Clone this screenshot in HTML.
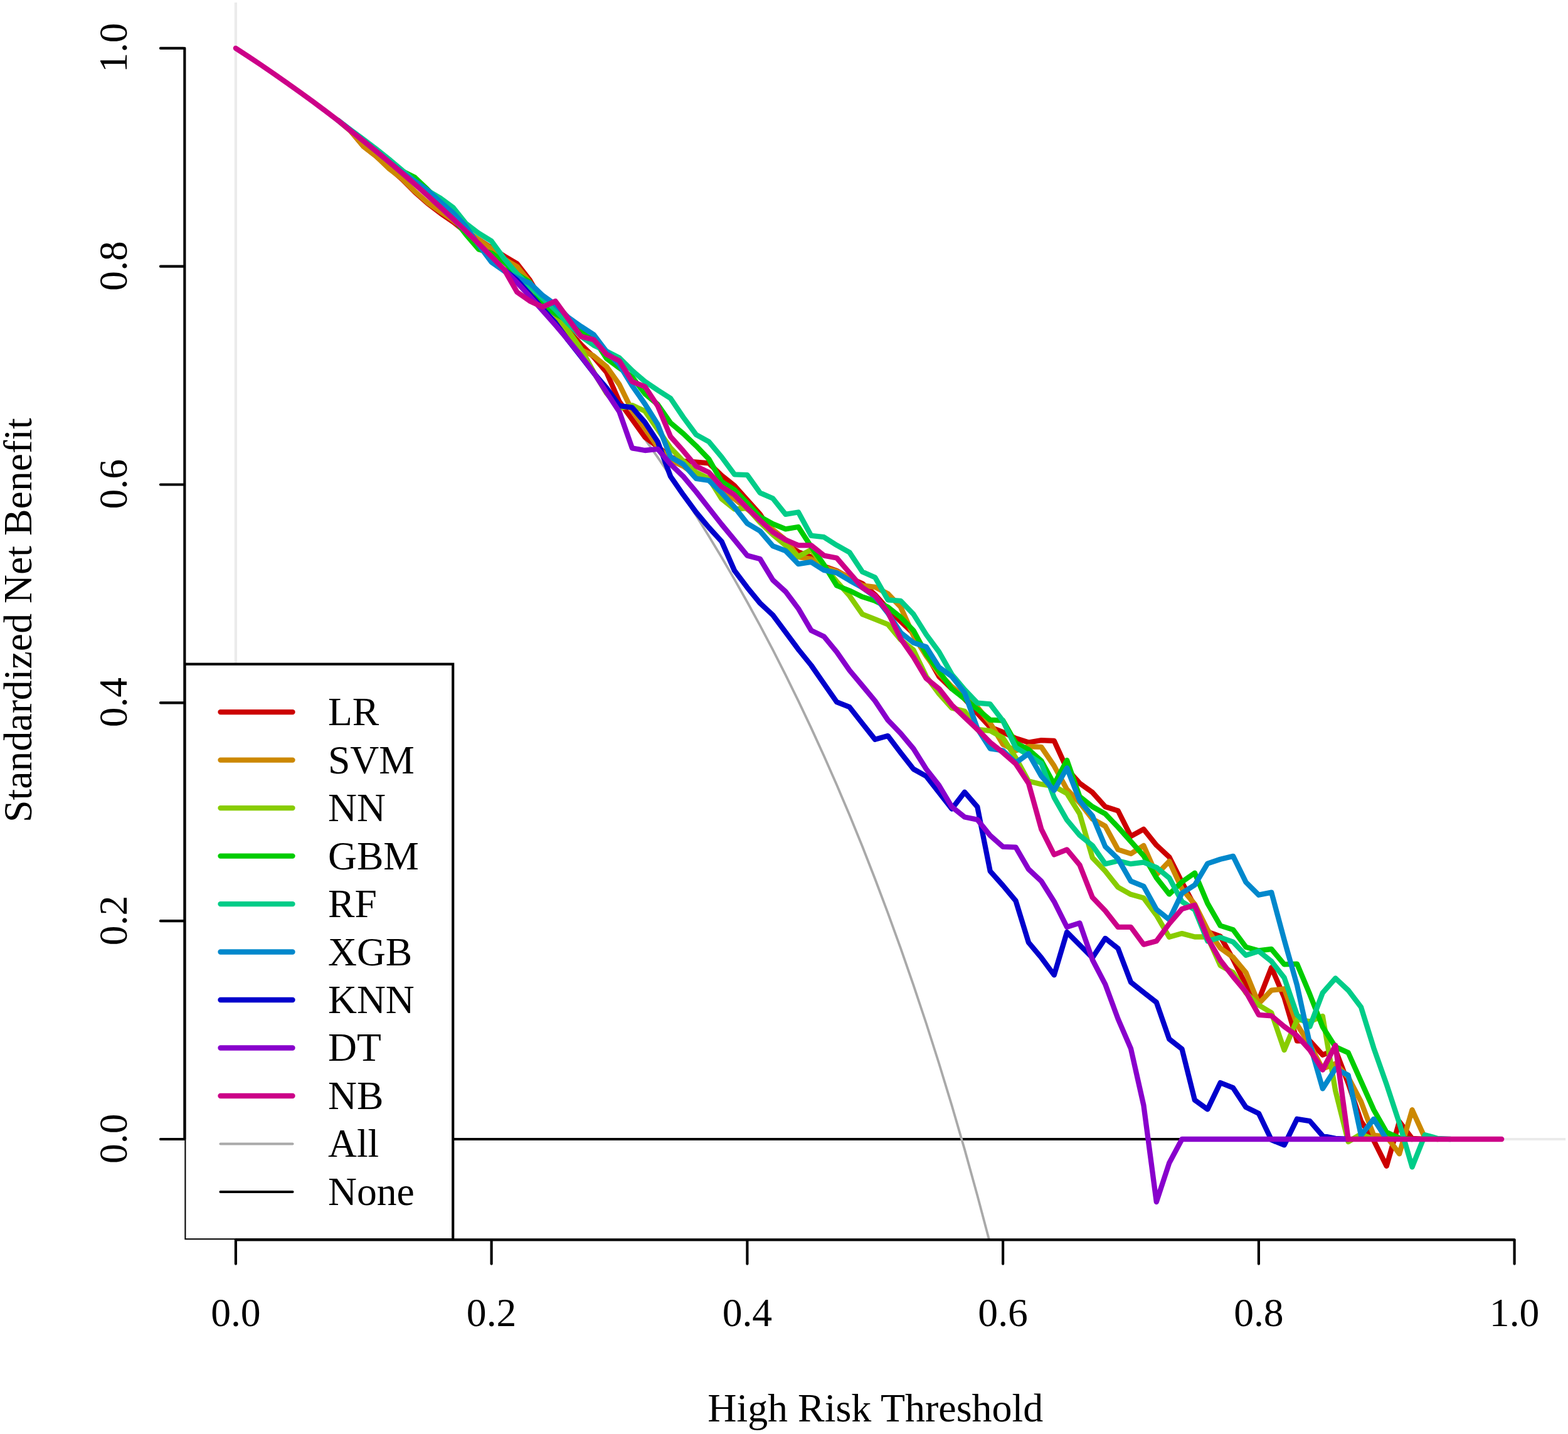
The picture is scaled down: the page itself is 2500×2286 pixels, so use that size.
<!DOCTYPE html>
<html lang="en">
<head>
<meta charset="utf-8">
<title>Decision curve analysis</title>
<style>
html,body{margin:0;padding:0;background:#fff;}
body{width:2500px;height:2286px;overflow:hidden;}
svg{display:block;}
text{font-family:"Liberation Serif","DejaVu Serif",serif;font-size:63.6px;fill:#000;}
.c{fill:none;stroke-width:8.33;stroke-linecap:round;stroke-linejoin:round;}
.t{fill:none;stroke-width:4.17;stroke-linecap:round;stroke-linejoin:round;}
</style>
</head>
<body>
<svg width="2500" height="2286" viewBox="0 0 2500 2286" role="img" aria-label="Decision curve analysis">
<rect x="0" y="0" width="2500" height="2286" fill="#fff"/>
<defs><clipPath id="plot"><rect x="294.35" y="3.9" width="2201.75" height="1972.3999999999999"/></clipPath></defs>
<g clip-path="url(#plot)">
<line class="t" stroke="#EBEBEB" x1="375.9" y1="-6.1" x2="375.9" y2="1986.3"/>
<line class="t" stroke="#EBEBEB" x1="284.35" y1="1816.0" x2="2506.1" y2="1816.0"/>
<line class="t" stroke="#000" x1="375.9" y1="1816.0" x2="2394.213" y2="1816.0"/>
<polyline class="t" style="stroke-width:3.8" stroke="#A9A9A9" points="375.9,76.9 396.3,90.3 416.7,103.9 437.1,117.9 457.4,132.1 477.8,146.6 498.2,161.4 518.6,176.6 539.0,192.1 559.4,207.9 579.8,224.0 600.2,240.6 620.5,257.5 640.9,274.8 661.3,292.5 681.7,310.6 702.1,329.2 722.5,348.1 742.9,367.6 763.3,387.5 783.6,408.0 804.0,428.9 824.4,450.4 844.8,472.5 865.2,495.1 885.6,518.3 906.0,542.2 926.3,566.7 946.7,591.9 967.1,617.8 987.5,644.5 1007.9,671.9 1028.3,700.1 1048.7,729.2 1069.1,759.1 1089.4,790.0 1109.8,821.8 1130.2,854.7 1150.6,888.6 1171.0,923.6 1191.4,959.8 1211.8,997.2 1232.2,1035.9 1252.5,1075.9 1272.9,1117.4 1293.3,1160.4 1313.7,1205.0 1334.1,1251.3 1354.5,1299.3 1374.9,1349.3 1395.2,1401.2 1415.6,1455.3 1436.0,1511.6 1456.4,1570.3 1476.8,1631.5 1497.2,1695.5 1517.6,1762.4 1538.0,1832.4 1558.3,1905.7 1578.7,1982.6 1599.1,2063.4 1619.5,2148.3 1639.9,2237.6 1660.3,2331.8 1680.7,2431.2 1701.1,2536.3 1721.4,2647.6 1741.8,2765.7 1762.2,2891.1 1782.6,3024.6 1803.0,3167.0 1823.4,3319.2 1843.8,3482.3 1864.2,3657.5 1884.5,3846.1"/>
<path class="c" stroke="#CC0000" d="M559.4 209.2L579.8 233.3L600.2 249.3L620.5 267.3L640.9 285.6L661.3 306.1L681.7 324.2L702.1 339.7L722.5 353.8L742.9 370.1L763.3 382.1L783.6 395.2L804.0 408.3L824.4 420.3L844.8 446.5L865.2 482.0L885.6 501.4L906.0 527.2L926.3 549.1L946.7 569.3L967.1 593.6L987.5 640.3L1007.9 668.6L1028.3 696.9L1048.7 712.3L1069.1 728.6L1089.4 735.1L1109.8 736.7L1130.2 738.4L1150.6 757.9L1171.0 774.2L1191.4 797.0L1211.8 819.8L1232.2 850.7L1252.5 867.0L1272.9 879.8L1293.3 887.9L1313.7 902.6L1334.1 909.9L1354.5 921.3L1374.9 930.2L1395.2 948.1L1415.6 970.9L1436.0 990.5L1456.4 1010.0L1476.8 1042.5L1497.2 1078.4L1517.6 1097.9M1538.0 1114.2L1558.3 1137.0L1578.7 1159.1L1599.1 1167.2L1619.5 1177.0L1639.9 1183.5L1660.3 1180.2L1680.7 1181.0L1701.1 1225.8L1721.4 1248.6L1741.8 1263.2L1762.2 1286.0L1782.6 1292.5L1803.0 1333.2L1823.4 1321.8L1843.8 1347.3L1864.2 1366.2L1884.5 1406.4L1904.9 1444.6L1925.3 1485.3L1945.7 1492.7L1966.1 1529.3L1986.5 1570.0L2006.9 1594.2L2027.2 1542.3L2047.6 1590.1L2068.0 1659.3L2088.4 1659.3L2108.8 1681.7L2129.2 1673.6L2149.6 1727.0L2170.0 1787.2L2190.3 1818.1L2210.7 1858.8L2231.1 1788.0L2251.5 1814.9L2271.9 1816.0"/>
<path class="c" stroke="#CC8800" d="M539.0 192.1L559.4 209.2L579.8 233.8L600.2 249.5L620.5 268.9L640.9 284.7L661.3 305.0L681.7 323.0L702.1 337.3L722.5 351.4L742.9 367.7L763.3 382.1L783.6 396.4L804.0 413.1L824.4 425.0L844.8 450.1L865.2 480.1L885.6 501.4L906.0 530.0L926.3 557.4L946.7 567.6L967.1 584.4L987.5 613.0L1007.9 654.5L1028.3 683.0L1048.7 712.3L1069.1 733.5L1089.4 743.2L1109.8 757.9L1130.2 764.4L1150.6 783.9L1171.0 795.3L1191.4 811.6L1211.8 826.3L1232.2 844.2L1252.5 860.4L1272.9 887.9L1293.3 891.2L1313.7 904.2L1334.1 910.7L1354.5 920.5L1374.9 933.5L1395.2 935.9L1415.6 946.5L1436.0 967.7L1456.4 1013.2L1476.8 1045.8L1497.2 1073.5L1517.6 1094.6L1538.0 1110.9L1558.3 1127.2L1578.7 1152.6L1599.1 1186.7L1619.5 1196.5L1639.9 1190.0L1660.3 1190.8L1680.7 1220.9L1701.1 1258.4L1721.4 1279.5L1741.8 1305.6L1762.2 1317.0L1782.6 1354.4L1803.0 1360.9L1823.4 1347.9L1843.8 1394.5L1864.2 1373.0L1884.5 1417.0L1904.9 1441.4L1925.3 1482.1L1945.7 1511.4L1966.1 1526.0L1986.5 1550.4L2006.9 1599.9L2027.2 1578.7L2047.6 1576.3L2068.0 1633.3L2088.4 1665.8L2108.8 1703.7L2129.2 1695.6L2149.6 1717.2L2170.0 1756.3L2190.3 1810.0L2210.7 1811.6L2231.1 1839.3L2251.5 1769.3L2271.9 1814.1L2292.3 1816.0"/>
<path class="c" stroke="#88CC00" d="M804.0 429.9L824.4 438.2L844.8 456.1L865.2 483.8M885.6 500.4L906.0 527.2L926.3 555.8L946.7 593.3L967.1 626.9L987.5 650.9L1007.9 646.1L1028.3 655.3L1048.7 684.6L1069.1 713.9L1089.4 735.1L1109.8 753.0L1130.2 762.8L1150.6 795.3L1171.0 811.6L1191.4 810.0L1211.8 832.8L1232.2 852.3L1252.5 869.3L1272.9 887.2L1293.3 876.4L1313.7 902.6L1334.1 927.0L1354.5 949.8L1374.9 979.1L1395.2 987.2L1415.6 995.3L1436.0 1019.8L1456.4 1036.0L1476.8 1078.4L1497.2 1106.0L1517.6 1128.8L1538.0 1133.7L1558.3 1163.0L1578.7 1164.8L1599.1 1176.2L1619.5 1207.9L1639.9 1245.3L1660.3 1250.2L1680.7 1253.5L1701.1 1264.9L1721.4 1297.4L1741.8 1367.4L1762.2 1388.6L1782.6 1414.4L1803.0 1425.8L1823.4 1431.5L1843.8 1459.0L1864.2 1493.8L1884.5 1488.1L1904.9 1493.5L1925.3 1493.5L1945.7 1539.1L1966.1 1550.4L1986.5 1582.8L2006.9 1602.3L2027.2 1614.5L2047.6 1673.9L2068.0 1625.1L2088.4 1628.4L2108.8 1619.9L2129.2 1738.7L2149.6 1820.1L2170.0 1807.9L2190.3 1816.0"/>
<path class="c" stroke="#00CC00" d="M620.5 257.9L640.9 272.6L661.3 282.7L681.7 302.1L702.1 322.4L722.5 347.4L742.9 373.7L763.3 397.6L783.6 403.5L804.0 417.9L824.4 437.0L844.8 450.1L865.2 483.8L885.6 500.4L906.0 511.5L926.3 526.3L946.7 540.1L967.1 571.5L987.5 586.7L1007.9 601.0L1028.3 627.7L1048.7 644.8L1069.1 674.1L1089.4 691.2L1109.8 710.7L1130.2 731.9L1150.6 767.7L1171.0 780.7L1191.4 801.8L1211.8 823.8L1232.2 835.2L1252.5 843.3L1272.9 840.0L1293.3 871.5L1313.7 900.2L1334.1 933.5L1354.5 941.6L1374.9 951.4L1395.2 957.9L1415.6 967.7L1436.0 983.9L1456.4 1005.1L1476.8 1042.5L1497.2 1070.2L1517.6 1097.9L1538.0 1114.2L1558.3 1130.4L1578.7 1147.7L1599.1 1148.5L1619.5 1184.3L1639.9 1194.9L1660.3 1212.8L1680.7 1250.2L1701.1 1212.0L1721.4 1269.8L1741.8 1286.0L1762.2 1297.4L1782.6 1318.6L1803.0 1341.4L1823.4 1364.2L1843.8 1399.4L1864.2 1425.4L1884.5 1405.9L1904.9 1391.7L1925.3 1440.1L1945.7 1475.6L1966.1 1482.1L1986.5 1509.8L2006.9 1515.4L2027.2 1513.0L2047.6 1537.4L2068.0 1536.6L2088.4 1585.2L2108.8 1637.0L2129.2 1668.9L2149.6 1678.1L2170.0 1723.7L2190.3 1769.3L2210.7 1805.1L2231.1 1814.1L2251.5 1816.0"/>
<path class="c" stroke="#00CC88" d="M539.0 191.7L559.4 207.2L579.8 222.3L600.2 237.8L620.5 254.0L640.9 271.3L661.3 289.0L681.7 303.9L702.1 315.8L722.5 330.9L742.9 356.4L763.3 371.9L783.6 384.4L804.0 412.5L824.4 436.4L844.8 456.7L865.2 475.5L885.6 494.0L906.0 516.1L926.3 536.0L946.7 550.4L967.1 559.9L987.5 570.5L1007.9 590.8L1028.3 608.1L1048.7 622.0L1069.1 635.0L1089.4 665.1L1109.8 692.8L1130.2 704.2L1150.6 728.6L1171.0 756.3L1191.4 757.1L1211.8 785.6L1232.2 794.5L1252.5 819.8L1272.9 816.5L1293.3 853.9L1313.7 856.2L1334.1 869.2L1354.5 880.6L1374.9 911.5L1395.2 920.5L1415.6 956.3L1436.0 957.9L1456.4 979.1L1476.8 1011.6L1497.2 1039.3L1517.6 1075.1L1538.0 1099.5L1558.3 1120.7L1578.7 1122.4L1599.1 1149.3L1619.5 1191.6L1639.9 1203.8L1660.3 1216.9L1680.7 1271.4L1701.1 1307.2L1721.4 1331.6L1741.8 1347.9L1762.2 1377.2L1782.6 1372.3L1803.0 1377.2L1823.4 1374.7L1843.8 1382.8L1864.2 1399.4L1884.5 1437.3L1904.9 1450.3L1925.3 1500.3L1945.7 1494.3L1966.1 1501.6L1986.5 1522.8L2006.9 1516.3L2027.2 1532.5L2047.6 1558.6L2068.0 1617.8L2088.4 1636.5L2108.8 1582.8L2129.2 1559.5L2149.6 1578.6L2170.0 1605.5L2190.3 1670.8L2210.7 1728.6L2231.1 1790.5L2251.5 1860.4L2271.9 1809.2L2292.3 1814.9L2312.7 1816.0"/>
<path class="c" stroke="#0088CC" d="M539.0 192.1L559.4 208.3L579.8 224.5L600.2 241.0L620.5 257.9L640.9 274.8L661.3 288.7L681.7 303.3L702.1 321.8L722.5 339.4L742.9 361.2L763.3 390.4L783.6 417.9L804.0 432.2L824.4 442.9L844.8 451.3L865.2 470.9L885.6 485.7L906.0 506.0L926.3 520.3L946.7 533.6L967.1 560.4L987.5 581.6L1007.9 614.8L1028.3 644.0L1048.7 676.5L1069.1 728.6L1089.4 740.0L1109.8 762.8L1130.2 766.0L1150.6 785.6L1171.0 808.4L1191.4 834.4L1211.8 846.5L1232.2 870.4L1252.5 878.0L1272.9 899.1L1293.3 895.9L1313.7 908.9L1334.1 913.1L1354.5 925.3L1374.9 936.7L1395.2 951.4L1415.6 977.4L1436.0 1008.4L1456.4 1024.6L1476.8 1031.2L1497.2 1063.7L1517.6 1078.4L1538.0 1104.4L1558.3 1161.4L1578.7 1193.3L1599.1 1196.5L1619.5 1216.0L1639.9 1201.4L1660.3 1237.2L1680.7 1260.0L1701.1 1224.2L1721.4 1276.3L1741.8 1300.7L1762.2 1349.5L1782.6 1369.1L1803.0 1404.7L1823.4 1412.8L1843.8 1449.8L1864.2 1466.1L1884.5 1423.8L1904.9 1410.8L1925.3 1376.6L1945.7 1369.8L1966.1 1364.9L1986.5 1406.4L2006.9 1426.7L2027.2 1422.7L2047.6 1498.4L2068.0 1570.6L2088.4 1664.2L2108.8 1735.4L2129.2 1703.7L2149.6 1713.9L2170.0 1810.0L2190.3 1783.9L2210.7 1816.0"/>
<path class="c" stroke="#0000CC" d="M804.0 429.9L824.4 446.8L844.8 468.9L865.2 491.9L885.6 514.6L906.0 542.7L926.3 568.3L946.7 594.7L967.1 618.4L987.5 646.8L1007.9 649.6L1028.3 673.3L1048.7 704.2L1069.1 759.5L1089.4 788.8L1109.8 816.5L1130.2 840.9L1150.6 863.3L1171.0 909.5L1191.4 936.6L1211.8 961.5L1232.2 980.5L1252.5 1007.7L1272.9 1035.3L1293.3 1060.5L1313.7 1089.8L1334.1 1119.1L1354.5 1127.2L1374.9 1153.2L1395.2 1178.8L1415.6 1173.1L1436.0 1200.0L1456.4 1226.0L1476.8 1237.4L1497.2 1263.5L1517.6 1289.5L1538.0 1262.7L1558.3 1286.3L1578.7 1388.8L1599.1 1411.6L1619.5 1436.0L1639.9 1502.3L1660.3 1526.7L1680.7 1554.4L1701.1 1486.0L1721.4 1506.4L1741.8 1526.7L1762.2 1495.8L1782.6 1512.1L1803.0 1565.8L1823.4 1582.1L1843.8 1597.9L1864.2 1656.4L1884.5 1672.3L1904.9 1753.7L1925.3 1768.4L1945.7 1726.0L1966.1 1734.2L1986.5 1765.1L2006.9 1774.9L2027.2 1817.2L2047.6 1825.3L2068.0 1783.8L2088.4 1787.1L2108.8 1810.8L2129.2 1814.9L2149.6 1816.0"/>
<path class="c" stroke="#8800CC" d="M804.0 429.9L824.4 450.4L844.8 472.5L865.2 495.1L885.6 518.3L906.0 542.2L926.3 567.2L946.7 594.2L967.1 625.5L987.5 656.5L1007.9 714.3L1028.3 718.0L1048.7 715.9L1069.1 740.0L1089.4 759.5L1109.8 783.9L1130.2 810.0L1150.6 836.0L1171.0 860.6L1191.4 885.6L1211.8 891.0L1232.2 924.6L1252.5 943.1L1272.9 970.2L1293.3 1004.9L1313.7 1014.7L1334.1 1039.3L1354.5 1068.6L1374.9 1093.0L1395.2 1117.4L1415.6 1147.9L1436.0 1169.1L1456.4 1193.5L1476.8 1226.0L1497.2 1252.1L1517.6 1286.3L1538.0 1302.5L1558.3 1306.6L1578.7 1331.8L1599.1 1349.8L1619.5 1350.6L1639.9 1385.6L1660.3 1404.7L1680.7 1437.2L1701.1 1477.9L1721.4 1471.4L1741.8 1530.0L1762.2 1569.1L1782.6 1624.4L1803.0 1671.6L1823.4 1762.0L1843.8 1916.0L1864.2 1854.0L1884.5 1816.0L1904.9 1816.0L1925.3 1816.0L1945.7 1816.0L1966.1 1816.0L1986.5 1816.0L2006.9 1816.0L2027.2 1816.0L2047.6 1816.0L2068.0 1816.0L2088.4 1816.0L2108.8 1816.0L2129.2 1816.0L2149.6 1816.0"/>
<path class="c" stroke="#CC0088" d="M375.9 76.9L396.3 90.3L416.7 103.9L437.1 117.9L457.4 132.1L477.8 146.6L498.2 161.4L518.6 176.6L539.0 192.1L559.4 208.7L579.8 224.9L600.2 241.4L620.5 258.4L640.9 275.7L661.3 293.4L681.7 311.6L702.1 330.1L722.5 349.1L742.9 368.6L763.3 388.5L783.6 408.9L804.0 429.9L824.4 465.6L844.8 479.9L865.2 489.4L885.6 480.1L906.0 508.3L926.3 536.4L946.7 541.5L967.1 565.0L987.5 575.2L1007.9 608.4L1028.3 616.3L1048.7 647.2L1069.1 696.0L1089.4 718.8L1109.8 743.2L1130.2 753.0L1150.6 775.8L1171.0 788.8L1191.4 810.0L1211.8 829.5L1232.2 848.1L1252.5 860.6L1272.9 869.3L1293.3 869.3L1313.7 885.6L1334.1 889.5L1354.5 913.1L1374.9 936.7L1395.2 949.8L1415.6 975.8L1436.0 1018.1L1456.4 1047.4L1476.8 1081.6L1497.2 1097.9L1517.6 1123.9L1538.0 1143.5L1558.3 1162.6L1578.7 1183.5L1599.1 1199.8L1619.5 1217.7L1639.9 1248.6L1660.3 1321.8L1680.7 1362.5L1701.1 1354.4L1721.4 1378.8L1741.8 1430.7L1762.2 1451.9L1782.6 1477.9L1803.0 1477.9L1823.4 1505.6L1843.8 1500.3L1864.2 1472.6L1884.5 1449.0L1904.9 1443.0L1925.3 1495.4L1945.7 1530.9L1966.1 1557.0L1986.5 1581.2L2006.9 1617.8L2027.2 1619.4L2047.6 1636.5L2068.0 1651.2L2088.4 1673.9L2108.8 1705.5L2129.2 1666.4L2149.6 1816.0L2170.0 1816.0L2190.3 1816.0L2210.7 1816.0L2231.1 1816.0L2251.5 1816.0L2271.9 1816.0L2292.3 1816.0L2312.7 1816.0L2333.1 1816.0L2353.4 1816.0L2373.8 1816.0L2394.2 1816.0"/>
<rect x="294.35" y="1058.7" width="427.85" height="917.5999999999999" fill="#fff" stroke="#000" stroke-width="4.17"/>
<line class="c" stroke="#CC0000" x1="351.5" y1="1135.1" x2="466.5" y2="1135.1"/>
<text x="523.0" y="1156.0">LR</text>
<line class="c" stroke="#CC8800" x1="351.5" y1="1211.6" x2="466.5" y2="1211.6"/>
<text x="523.0" y="1232.5">SVM</text>
<line class="c" stroke="#88CC00" x1="351.5" y1="1288.1" x2="466.5" y2="1288.1"/>
<text x="523.0" y="1309.0">NN</text>
<line class="c" stroke="#00CC00" x1="351.5" y1="1364.6" x2="466.5" y2="1364.6"/>
<text x="523.0" y="1385.5">GBM</text>
<line class="c" stroke="#00CC88" x1="351.5" y1="1441.1" x2="466.5" y2="1441.1"/>
<text x="523.0" y="1462.0">RF</text>
<line class="c" stroke="#0088CC" x1="351.5" y1="1517.5" x2="466.5" y2="1517.5"/>
<text x="523.0" y="1538.5">XGB</text>
<line class="c" stroke="#0000CC" x1="351.5" y1="1594.0" x2="466.5" y2="1594.0"/>
<text x="523.0" y="1614.9">KNN</text>
<line class="c" stroke="#8800CC" x1="351.5" y1="1670.5" x2="466.5" y2="1670.5"/>
<text x="523.0" y="1691.4">DT</text>
<line class="c" stroke="#CC0088" x1="351.5" y1="1747.0" x2="466.5" y2="1747.0"/>
<text x="523.0" y="1767.9">NB</text>
<line class="t" stroke="#A9A9A9" x1="351.5" y1="1823.5" x2="466.5" y2="1823.5"/>
<text x="523.0" y="1844.4">All</text>
<line class="t" stroke="#000" x1="351.5" y1="1900.0" x2="466.5" y2="1900.0"/>
<text x="523.0" y="1920.9">None</text>
</g>
<g class="t" stroke="#000">
<line x1="294.35" y1="1816.0" x2="294.35" y2="76.90000000000009"/>
<line x1="292.85" y1="1816.0" x2="255.95000000000002" y2="1816.0"/>
<line x1="292.85" y1="1468.2" x2="255.95000000000002" y2="1468.2"/>
<line x1="292.85" y1="1120.4" x2="255.95000000000002" y2="1120.4"/>
<line x1="292.85" y1="772.5" x2="255.95000000000002" y2="772.5"/>
<line x1="292.85" y1="424.7" x2="255.95000000000002" y2="424.7"/>
<line x1="292.85" y1="76.9" x2="255.95000000000002" y2="76.9"/>
<line x1="375.9" y1="1976.3" x2="2414.6" y2="1976.3"/>
<line x1="375.9" y1="1977.8" x2="375.9" y2="2014.7"/>
<line x1="783.6" y1="1977.8" x2="783.6" y2="2014.7"/>
<line x1="1191.4" y1="1977.8" x2="1191.4" y2="2014.7"/>
<line x1="1599.1" y1="1977.8" x2="1599.1" y2="2014.7"/>
<line x1="2006.9" y1="1977.8" x2="2006.9" y2="2014.7"/>
<line x1="2414.6" y1="1977.8" x2="2414.6" y2="2014.7"/>
</g>
<text text-anchor="middle" x="375.9" y="2113.8">0.0</text>
<text text-anchor="middle" transform="translate(201.5,1815.2) rotate(-90)">0.0</text>
<text text-anchor="middle" x="783.6" y="2113.8">0.2</text>
<text text-anchor="middle" transform="translate(201.5,1467.4) rotate(-90)">0.2</text>
<text text-anchor="middle" x="1191.4" y="2113.8">0.4</text>
<text text-anchor="middle" transform="translate(201.5,1119.6) rotate(-90)">0.4</text>
<text text-anchor="middle" x="1599.1" y="2113.8">0.6</text>
<text text-anchor="middle" transform="translate(201.5,771.7) rotate(-90)">0.6</text>
<text text-anchor="middle" x="2006.9" y="2113.8">0.8</text>
<text text-anchor="middle" transform="translate(201.5,423.9) rotate(-90)">0.8</text>
<text text-anchor="middle" x="2414.6" y="2113.8">1.0</text>
<text text-anchor="middle" transform="translate(201.5,76.1) rotate(-90)">1.0</text>
<text style="font-size:63.9px" text-anchor="middle" x="1395.7" y="2266">High Risk Threshold</text>
<text style="font-size:63.8px" text-anchor="middle" transform="translate(49.5,988.6) rotate(-90)">Standardized Net Benefit</text>
</svg>
</body>
</html>
